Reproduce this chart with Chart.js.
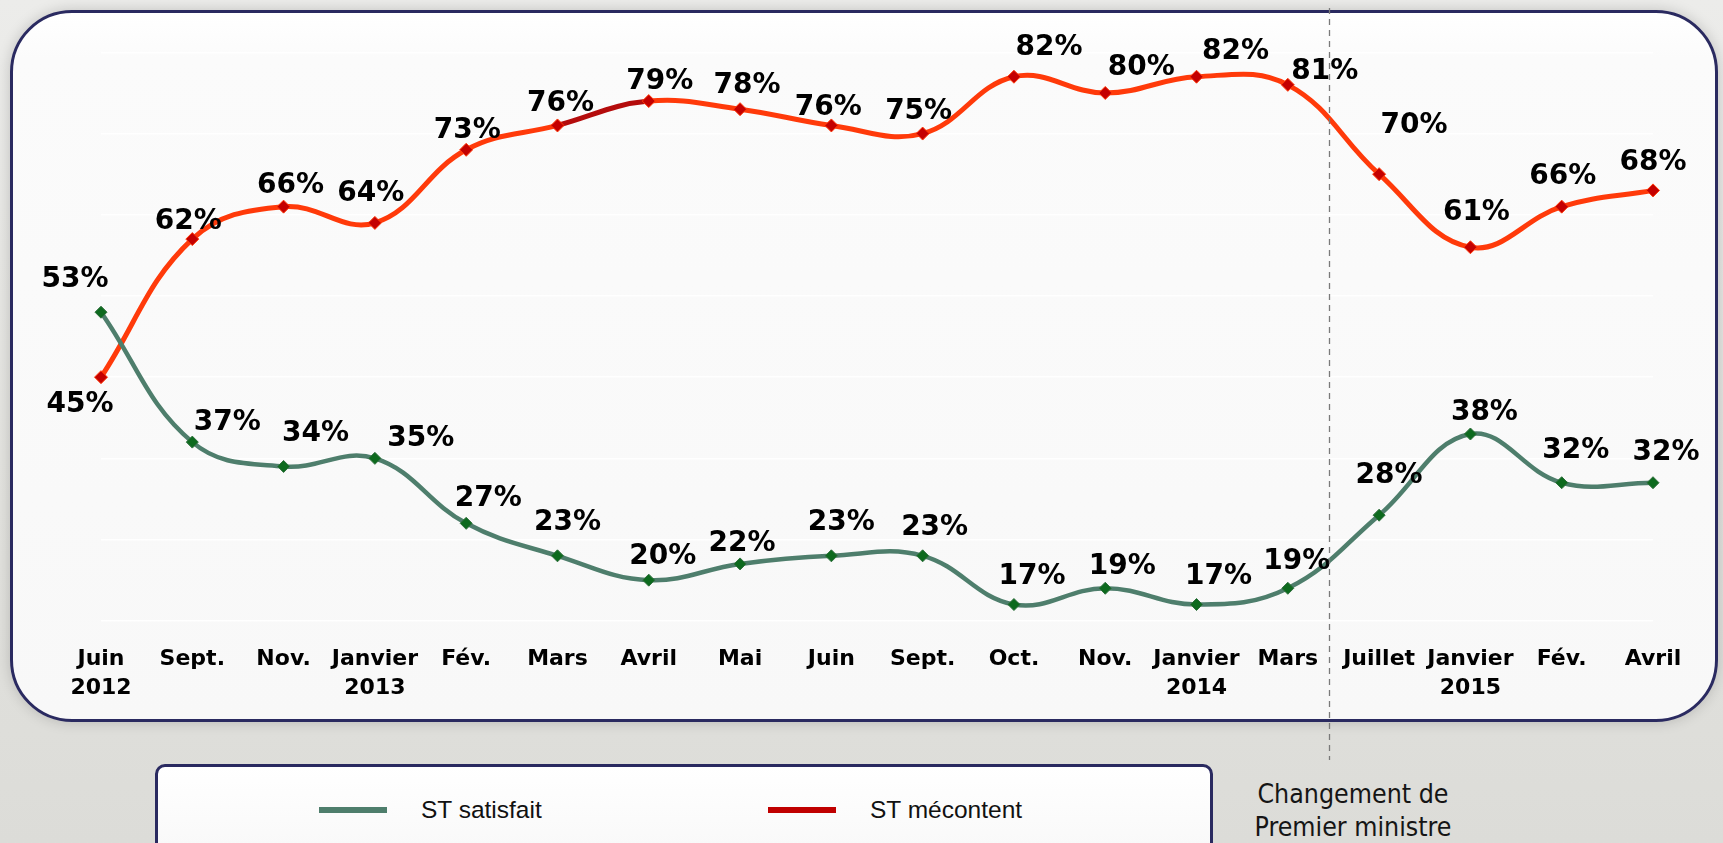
<!DOCTYPE html>
<html>
<head>
<meta charset="utf-8">
<script src="https://cdn.jsdelivr.net/npm/chart.js@4.4.0/dist/chart.umd.min.js"></script>
<style>
html,body{margin:0;padding:0;width:1723px;height:843px;overflow:hidden;}
body{background:linear-gradient(180deg,#ececea 0%,#e2e2de 60%,#dcdcd8 100%);position:relative;}
#box{position:absolute;left:10px;top:10px;width:1708px;height:712px;box-sizing:border-box;border:3px solid #2a2a60;border-radius:62px;background:linear-gradient(180deg,#ffffff 0px,#fbfbfb 45px,#f8f8f8 100%);box-shadow:0 0 14px rgba(0,0,0,0.18);}
#legendBox{position:absolute;left:155px;top:764px;width:1058px;height:110px;box-sizing:border-box;border:3px solid #2a2a60;border-radius:10px;background:linear-gradient(180deg,#ffffff 0%,#f7f7f7 100%);}
.lg{position:absolute;top:795px;height:30px;display:flex;align-items:center;font:24.5px "Liberation Sans",Arial,sans-serif;color:#111;}
.lg span.sw{display:inline-block;width:68px;height:6px;margin-right:34px;}
#note{position:absolute;left:1222px;top:777px;width:262px;text-align:center;font:26.5px "DejaVu Sans Condensed","DejaVu Sans",sans-serif;line-height:33px;color:#151515;}
canvas{position:absolute;left:0;top:0;}
</style>
</head>
<body>
<div id="box"></div>
<div id="legendBox"></div>
<div id="legend"></div>
<div id="note">Changement de<br>Premier ministre</div>
<canvas id="c" width="1723" height="843"></canvas>
<script>
// ---- data ----
const months = ['Juin','Sept.','Nov.','Janvier','Fév.','Mars','Avril','Mai','Juin','Sept.','Oct.','Nov.','Janvier','Mars','Juillet','Janvier','Fév.','Avril'];
const years  = ['2012','','','2013','','','','','','','','','2014','','','2015','',''];
const satisfait = [53,37,34,35,27,23,20,22,23,23,17,19,17,19,28,38,32,32];
const mecontent = [45,62,66,64,73,76,79,78,76,75,82,80,82,81,70,61,66,68];
const seriesNames = ['ST satisfait','ST mécontent'];
const gridTicks = [15,25,35,45,55,65,75,85];
const changeAfterIndex = 13; // change of Prime Minister between Mars 2014 and Juillet 2014

// ---- label placement (style only) ----
const satOffsets = [[-26,-32],[35,-19],[32,-33],[46,-20],[22,-25],[10,-33],[14,-23],[2,-20],[10,-33],[12,-28],[18,-28],[17,-22],[22,-28],[9,-27],[10,-39],[14,-21],[14,-32],[13,-30]];
const mecOffsets = [[-21,28],[-4,-17],[7,-21],[-4,-29],[1,-19],[3,-22],[11,-19],[7,-23],[-3,-18],[-4,-22],[35,-29],[36,-25],[39,-25],[37,-13],[35,-48],[6,-35],[1,-30],[0,-28]];

const labels = months.map((m,i)=> years[i] ? [m, years[i]] : m);

const GREEN_LINE = '#4e7e6c', RED_LINE = '#ff3a0a';

const valueLabels = {
  id:'valueLabels',
  afterDatasetsDraw(chart){
    const ctx = chart.ctx;
    ctx.save();
    ctx.font = 'bold 28px "DejaVu Sans", Verdana, sans-serif';
    ctx.fillStyle = '#000';
    ctx.textAlign = 'center';
    ctx.textBaseline = 'middle';
    chart.data.datasets.forEach((ds,di)=>{
      const meta = chart.getDatasetMeta(di);
      const offs = di===0 ? satOffsets : mecOffsets;
      meta.data.forEach((pt,i)=>{
        ctx.fillText(ds.data[i] + '%', pt.x + offs[i][0], pt.y + offs[i][1]);
      });
    });
    ctx.restore();
  }
};

const changeLine = {
  id:'changeLine',
  afterDraw(chart){
    const xs = chart.scales.x;
    const x = Math.round((xs.getPixelForValue(changeAfterIndex) + xs.getPixelForValue(changeAfterIndex+1))/2) - 4 + 0.5;
    const ctx = chart.ctx;
    ctx.save();
    ctx.strokeStyle = '#7a7a7a';
    ctx.lineWidth = 1.3;
    ctx.setLineDash([6,5]);
    ctx.beginPath();
    ctx.moveTo(x, 8);
    ctx.lineTo(x, 760);
    ctx.stroke();
    ctx.restore();
  }
};

const chart = new Chart(document.getElementById('c'), {
  type:'line',
  data:{
    labels: labels,
    datasets:[
      {
        label: seriesNames[0],
        data: satisfait,
        borderColor: GREEN_LINE,
        borderWidth: 4.5,
        tension: 0.4,
        pointStyle:'rectRot',
        pointRadius: 6,
        pointBackgroundColor:'#0d6a1e',
        pointBorderColor:'#2e6e3c',
        pointBorderWidth:1
      },
      {
        label: seriesNames[1],
        data: mecontent,
        borderColor: RED_LINE,
        borderWidth: 5,
        tension: 0.4,
        segment:{ borderColor: c => c.p0DataIndex===5 ? '#b40c0c' : RED_LINE },
        pointStyle:'rectRot',
        pointRadius: 6.5,
        pointBackgroundColor:'#c40000',
        pointBorderColor:'#ff3a0a',
        pointBorderWidth:1
      }
    ]
  },
  options:{
    responsive:false,
    animation:false,
    layout:{padding:{left:101,right:70,top:28,bottom:146}},
    plugins:{legend:{display:false},tooltip:{enabled:false}},
    scales:{
      x:{
        grid:{display:false,drawTicks:false},
        border:{display:false},
        ticks:{
          color:'#000',
          padding:8,
          autoSkip:false,
          maxRotation:0,
          font:{family:'"DejaVu Sans", Verdana, sans-serif',size:22,weight:'bold',lineHeight:1.3}
        },
        afterFit(s){ s.height = 60; }
      },
      y:{
        min:13,max:88,
        grid:{color:'rgba(255,255,255,0.95)',lineWidth:1.5,drawTicks:false},
        border:{display:false},
        ticks:{display:false},
        afterBuildTicks(s){ s.ticks = gridTicks.map(v=>({value:v})); },
        afterFit(s){ s.width = 0; }
      }
    }
  },
  plugins:[valueLabels, changeLine]
});

// HTML legend from dataset labels
const legendColors = ['#4e7e6c','#c00000'];
const legendLeft = [319, 768];
const lg = document.getElementById('legend');
seriesNames.forEach((n,i)=>{
  const d = document.createElement('div');
  d.className='lg';
  d.style.left = legendLeft[i]+'px';
  const sw = document.createElement('span');
  sw.className='sw';
  sw.style.background = legendColors[i];
  d.appendChild(sw);
  d.appendChild(document.createTextNode(n));
  lg.appendChild(d);
});
</script>
</body>
</html>
